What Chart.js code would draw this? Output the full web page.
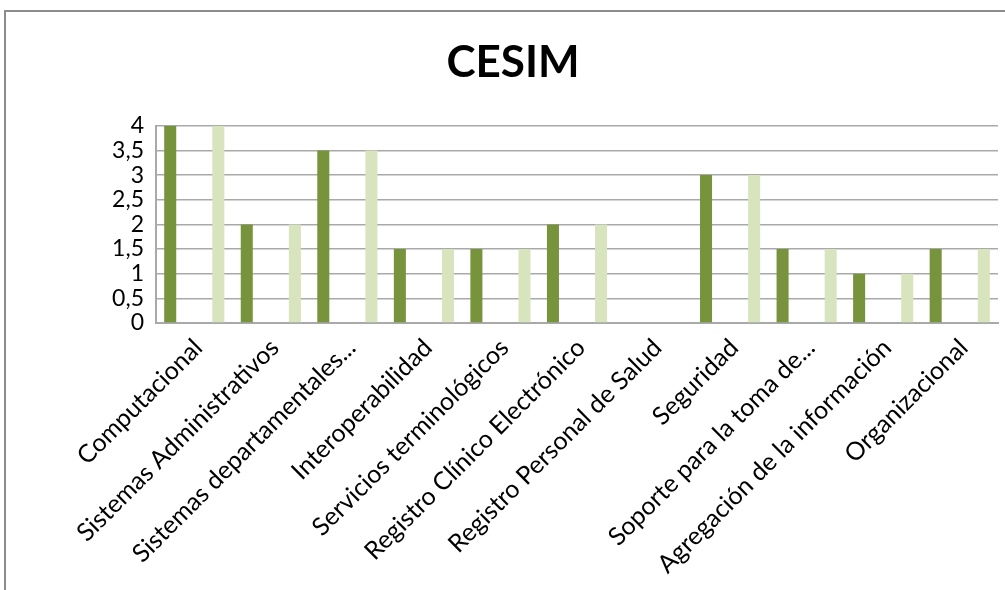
<!DOCTYPE html>
<html>
<head>
<meta charset="utf-8">
<title>CESIM</title>
<script src="https://cdn.jsdelivr.net/npm/chart.js@4"></script>
<style>
  html, body { margin: 0; padding: 0; background: #fff; overflow: hidden; }
  #frame {
    position: absolute; left: 4px; top: 10px; width: 1040px; height: 620px;
    border: 2px solid #8c8c8c; box-sizing: border-box;
  }
  #wrap { position: absolute; left: 0; top: 0; width: 1005px; height: 590px; }
</style>
</head>
<body>
<div id="frame"></div>
<div id="wrap"><canvas id="cesimChart" width="1005" height="590"></canvas></div>
<script>
// Categories and scores
const categories = [
    'Computacional',
    'Sistemas Administrativos',
    'Sistemas departamentales...',
    'Interoperabilidad',
    'Servicios terminológicos',
    'Registro Clínico Electrónico',
    'Registro Personal de Salud',
    'Seguridad',
    'Soporte para la toma de...',
    'Agregación de la información',
    'Organizacional'
];
const serie1 = [4, 2, 3.5, 1.5, 1.5, 2, 0, 3, 1.5, 1, 1.5];
const serie2 = [4, 2, 3.5, 1.5, 1.5, 2, 0, 3, 1.5, 1, 1.5];
const yTickLabels = ['0', '0,5', '1', '1,5', '2', '2,5', '3', '3,5', '4'];

const labelFont = "'Lato', 'Open Sans', sans-serif";
const gridColor = '#a9a9a9';

const ctx = document.getElementById('cesimChart').getContext('2d');

new Chart(ctx, {
    type: 'bar',
    data: {
        labels: categories,
        datasets: [{
            label: 'Serie 1',
            data: serie1,
            backgroundColor: '#77933c',
            categoryPercentage: 1.257,
            barPercentage: 0.25
        }, {
            label: 'Serie 2',
            data: serie2,
            backgroundColor: '#d7e4bd',
            categoryPercentage: 1.257,
            barPercentage: 0.25
        }]
    },
    options: {
        responsive: false,
        animation: false,
        // left padding also nudges the centred title to the right
        layout: { padding: { left: 28, right: 7, top: 0, bottom: 0 } },
        plugins: {
            legend: { display: false },
            tooltip: { enabled: false },
            title: {
                display: true,
                text: 'CESIM',
                color: '#000',
                font: { family: labelFont, size: 44, weight: 'bold', lineHeight: 1.2 },
                padding: { top: 36, bottom: 37 }
            }
        },
        scales: {
            x: {
                grid: { display: false },
                border: { display: true, color: gridColor, width: 2 },
                ticks: {
                    color: '#000',
                    font: { family: labelFont, size: 25 },
                    maxRotation: 45,
                    minRotation: 45,
                    autoSkip: false,
                    padding: 2,
                    labelOffset: 4
                },
                afterFit: (scale) => { scale.height = 590 - 323; }
            },
            y: {
                min: 0,
                max: 4,
                ticks: {
                    stepSize: 0.5,
                    autoSkip: false,
                    color: '#000',
                    font: { family: labelFont, size: 23, lineHeight: 1 },
                    padding: 12,
                    callback: (value, index) => yTickLabels[index]
                },
                grid: { color: gridColor, lineWidth: 1.5, drawTicks: false },
                border: { display: true, color: gridColor, width: 2 },
                afterFit: (scale) => { scale.width = 128; }
            }
        }
    }
});
</script>
</body>
</html>
